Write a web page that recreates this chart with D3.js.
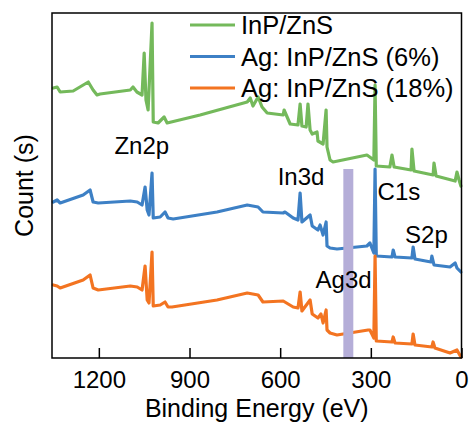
<!DOCTYPE html>
<html>
<head>
<meta charset="utf-8">
<script src="https://cdn.jsdelivr.net/npm/d3@7"></script>
<style>
  body { margin: 0; background: #fff; }
  svg { font-family: "Liberation Sans", Arial, sans-serif; }
  .spectrum { fill: none; stroke-width: 3.2; stroke-linejoin: round; stroke-linecap: round; }
</style>
</head>
<body>
<div class="wrapper"></div>
<script>
// [binding energy (eV), counts (a.u.)]
var inpZns = [
  [1351, 270], [1338, 271], [1328, 266], [1285, 267], [1235, 276], [1219, 268],
  [1206, 263], [1196, 264], [1096, 268], [1087, 271], [1074, 266], [1057, 263],
  [1050, 305], [1044, 258], [1037, 248], [1024, 335], [1020, 236], [1004, 235],
  [984, 241], [974, 235], [865, 243], [709, 256], [699, 260], [690, 252],
  [673, 261], [660, 251], [643, 245], [590, 243], [587, 248], [567, 234],
  [541, 233], [534, 254], [528, 232], [514, 231], [508, 254], [501, 228],
  [494, 224], [478, 226], [475, 217], [458, 214], [448, 248], [445, 211],
  [435, 198], [425, 196], [313, 203], [299, 200], [290, 198], [286, 273],
  [282, 192], [237, 191], [230, 203], [223, 191], [167, 188], [164, 209],
  [157, 187], [94, 183], [91, 195], [84, 182], [21, 177], [15, 186],
  [8, 178], [2, 172]
];
var agInpZns6 = [
  [1351, 156], [1338, 158], [1328, 155], [1252, 163], [1229, 168], [1219, 156],
  [1202, 155], [1096, 157], [1073, 156], [1057, 153], [1047, 171], [1040, 148],
  [1034, 143], [1024, 185], [1020, 140], [997, 141], [981, 146], [971, 140],
  [954, 139], [809, 146], [709, 153], [673, 151], [657, 146], [590, 145],
  [584, 146], [557, 140], [541, 138], [534, 165], [528, 136], [501, 143],
  [494, 132], [475, 128], [468, 133], [458, 123], [448, 136], [445, 112],
  [435, 110], [412, 109], [313, 112], [303, 115], [290, 105], [286, 189],
  [282, 102], [230, 101], [226, 108], [220, 101], [164, 100], [160, 111],
  [154, 99], [101, 96], [98, 102], [91, 93], [38, 91], [21, 95],
  [15, 90], [2, 86]
];
var agInpZns18 = [
  [1351, 73], [1338, 72], [1328, 70], [1252, 78], [1229, 83], [1219, 70],
  [1202, 68], [1096, 72], [1073, 71], [1057, 68], [1047, 92], [1040, 58],
  [1034, 55], [1024, 106], [1020, 52], [997, 53], [981, 56], [971, 51],
  [958, 51], [809, 58], [709, 65], [673, 63], [657, 56], [590, 57],
  [557, 51], [541, 50], [534, 66], [528, 47], [501, 58], [494, 44],
  [475, 40], [465, 44], [458, 35], [448, 48], [445, 28], [435, 25],
  [412, 23], [309, 28], [303, 28], [290, 20], [286, 102], [282, 17],
  [230, 16], [226, 21], [220, 15], [164, 14], [160, 24], [154, 13],
  [98, 11], [94, 16], [88, 10], [38, 5], [15, 8], [2, 1]
];

var seriesNames = ["InP/ZnS", "Ag: InP/ZnS (6%)", "Ag: InP/ZnS (18%)"];
var seriesColors = ["#74b95b", "#3d80c5", "#f37421"];
var xTicks = [1200, 900, 600, 300, 0];

var peakLabels = [
  { text: "Zn2p", be: 1058, counts: 204 },
  { text: "In3d", be: 531, counts: 173 },
  { text: "C1s", be: 207, counts: 158 },
  { text: "S2p", be: 116, counts: 115 },
  { text: "Ag3d", be: 390, counts: 70 }
];
var agBand = { from: 391, to: 358, top: 189 };

var width = 469, height = 425;
var margin = { top: 13, right: 7.5, bottom: 67, left: 52 };

var svg = d3.select(".wrapper").append("svg")
  .attr("width", width)
  .attr("height", height);

var x = d3.scaleLinear()
  .domain([1355, 0])
  .range([margin.left, width - margin.right]);
var y = d3.scaleLinear()
  .domain([0, 345])
  .range([height - margin.bottom, margin.top]);

var line = d3.line()
  .x(d => x(d[0]))
  .y(d => y(d[1]));

// curves
[inpZns, agInpZns6, agInpZns18].forEach((data, i) => {
  svg.append("path")
    .datum(data)
    .attr("class", "spectrum")
    .attr("stroke", seriesColors[i])
    .attr("d", line);
});

// Ag3d marker band
svg.append("rect")
  .attr("x", x(agBand.from))
  .attr("y", y(agBand.top))
  .attr("width", x(agBand.to) - x(agBand.from))
  .attr("height", y(0) - y(agBand.top))
  .attr("fill", "#b5aed8");

// x axis, ticks pointing inward
var xAxis = svg.append("g")
  .attr("transform", `translate(0,${y(0)})`)
  .call(d3.axisBottom(x)
    .tickValues(xTicks)
    .tickFormat(d3.format("d"))
    .tickSizeInner(-10)
    .tickSizeOuter(0)
    .tickPadding(13));
xAxis.select(".domain").remove();
xAxis.selectAll(".tick line").attr("stroke", "#000").attr("stroke-width", 1.5);
xAxis.selectAll(".tick text")
  .attr("fill", "#000")
  .style("font-size", "24px")
  .style("font-family", "'Liberation Sans', Arial, sans-serif");

// frame
svg.append("rect")
  .attr("x", margin.left)
  .attr("y", margin.top)
  .attr("width", width - margin.right - margin.left)
  .attr("height", y(0) - margin.top)
  .attr("fill", "none")
  .attr("stroke", "#000")
  .attr("stroke-width", 1.5);

// axis titles
svg.append("text")
  .attr("x", (margin.left + width - margin.right) / 2)
  .attr("y", 417)
  .attr("text-anchor", "middle")
  .style("font-size", "25px")
  .text("Binding Energy (eV)");

svg.append("text")
  .attr("transform", `translate(33,${(margin.top + y(0)) / 2}) rotate(-90)`)
  .attr("text-anchor", "middle")
  .style("font-size", "25px")
  .text("Count (s)");

// peak labels
svg.selectAll(".peak-label")
  .data(peakLabels)
  .enter()
  .append("text")
  .attr("class", "peak-label")
  .attr("x", d => x(d.be))
  .attr("y", d => y(d.counts))
  .attr("text-anchor", "middle")
  .style("font-size", "24px")
  .text(d => d.text);

// legend
var legend = svg.append("g").attr("transform", "translate(190,25)");
seriesNames.forEach((name, i) => {
  var row = legend.append("g").attr("transform", `translate(0,${i * 31.5})`);
  row.append("line")
    .attr("x1", 0).attr("x2", 45)
    .attr("stroke", seriesColors[i])
    .attr("stroke-width", 3);
  row.append("text")
    .attr("x", 51)
    .attr("y", 9)
    .style("font-size", "25.5px")
    .text(name);
});
</script>
</body>
</html>
